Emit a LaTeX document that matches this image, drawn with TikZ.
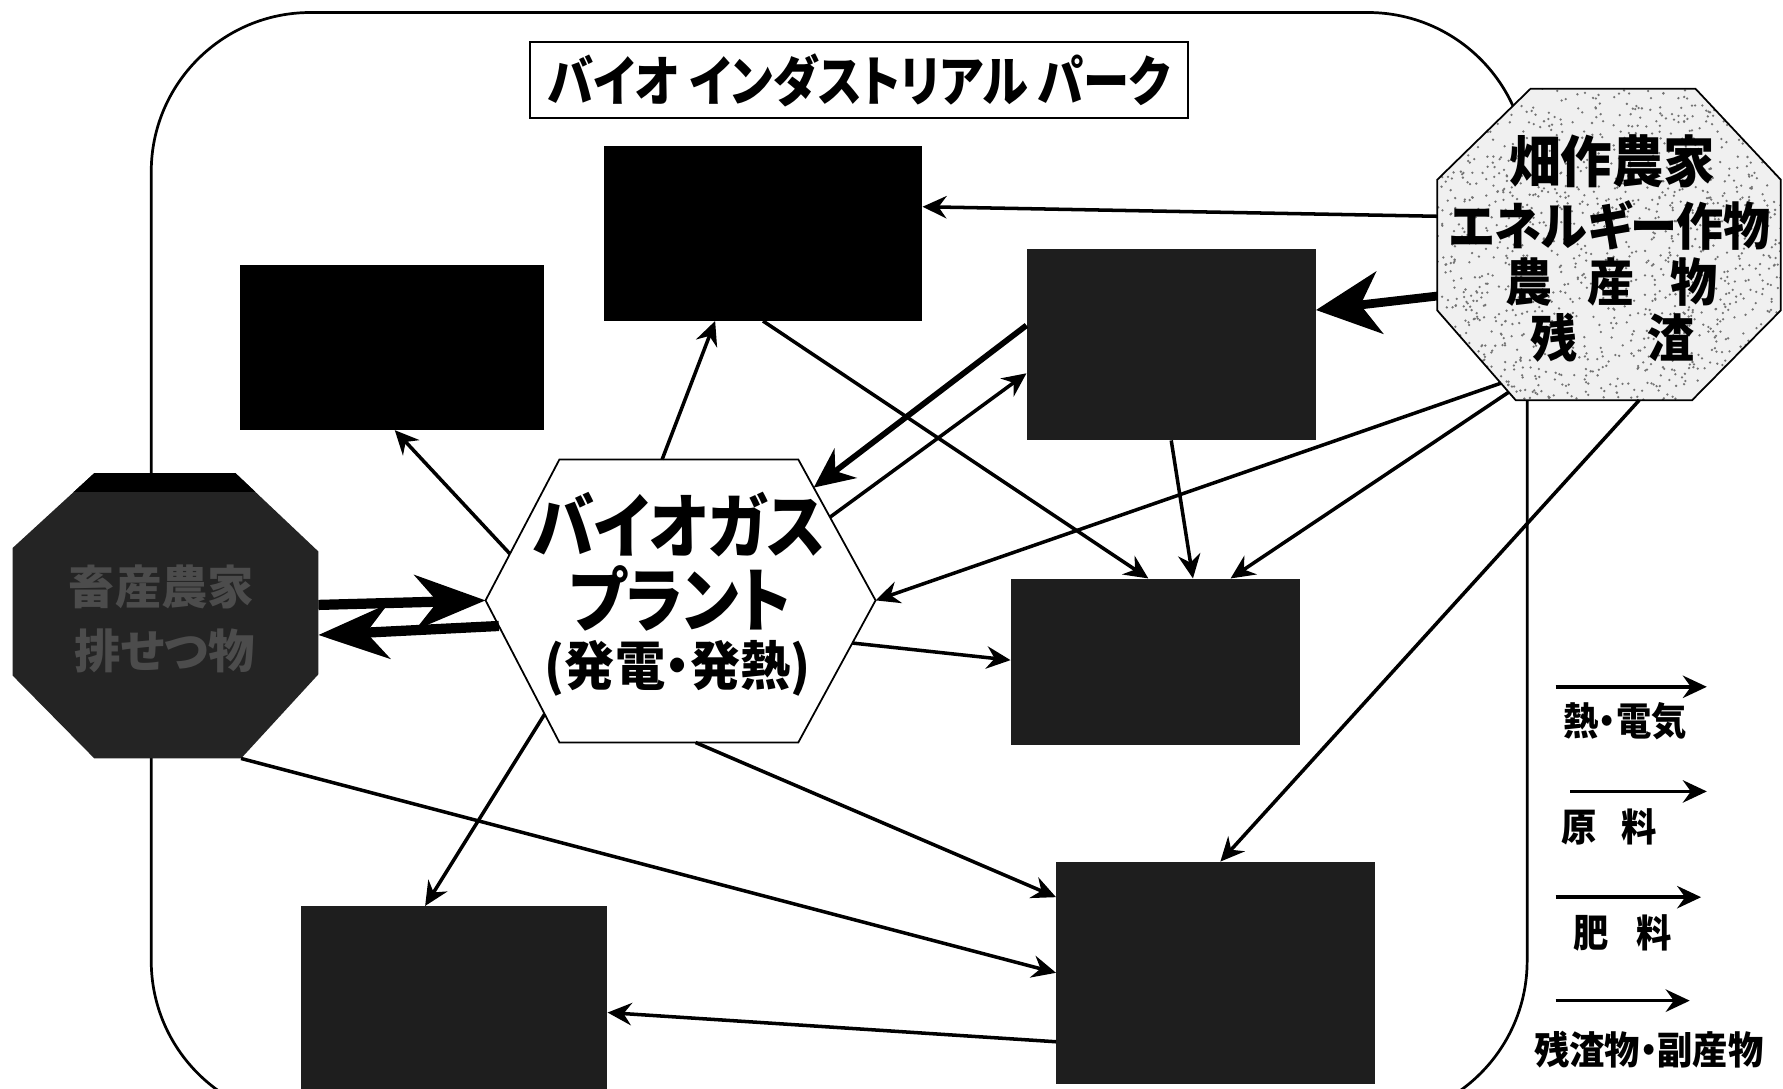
\documentclass[tikz,border=0pt]{standalone}
\usepackage{fontspec}
\newfontfamily\jp[RawFeature=+palt]{Noto Sans CJK JP}
\usetikzlibrary{arrows.meta,calc}
\newcommand\jpsize[1]{\jp\bfseries\fontsize{#1}{#1}\selectfont}
\newcommand\narrow[2]{\scalebox{#1}[1]{#2}}
\definecolor{darkbox}{HTML}{1E1E1E}
\definecolor{octfill}{HTML}{242424}
\begin{document}
\begin{tikzpicture}[x=0.025cm,y=-0.025cm,
  conn/.style={line width=2.2pt,-{Stealth[length=15pt,width=14pt,inset=5pt]}},
  thickconn/.style={line width=3.6pt,-{Stealth[length=25pt,width=23pt,inset=8pt]}},
  heavyconn/.style={line width=5.5pt,-{Stealth[length=40pt,width=39pt,inset=12pt]}},
  hugeconn/.style={line width=6.4pt,-{Stealth[length=44pt,width=34pt,inset=14pt]}},
  photobox/.style={inner sep=0pt,draw=none},
  lbl/.style={inner sep=0pt,text=black},
]
\useasboundingbox (0,0) rectangle (1568,957);
\clip (0,0) rectangle (1568,957);
\fill[white] (0,0) rectangle (1568,957);

% outer park boundary
\draw[line width=1.7pt,rounded corners=3.5cm] (133,11) rectangle (1343,985);

% title
\node[draw,line width=1.2pt,fill=white,minimum width=14.475cm,minimum height=1.675cm,inner sep=0pt] (title) at (755.5,70.5) {\narrow{0.85}{\jpsize{34pt}バイオ インダストリアル パーク}};

% photo boxes
\node[photobox,fill=black,minimum width=7cm,minimum height=3.85cm] (tb) at (671,205) {};
\node[photobox,fill=black,minimum width=6.675cm,minimum height=3.625cm] (tl) at (344.5,305.5) {};
\node[photobox,fill=darkbox,minimum width=6.35cm,minimum height=4.2cm] (ru) at (1030,303) {};
\node[photobox,fill=darkbox,minimum width=6.35cm,minimum height=3.65cm] (rm) at (1016,582) {};
\node[photobox,fill=darkbox,minimum width=7cm,minimum height=4.875cm] (lr) at (1069,855.5) {};
\node[photobox,fill=darkbox,minimum width=6.725cm,minimum height=4.325cm] (ll) at (399.5,883.5) {};

% hexagon vertices
\coordinate (hTL) at (492,404); \coordinate (hTR) at (702,404);
\coordinate (hR) at (770,528);  \coordinate (hBR) at (702,653);
\coordinate (hBL) at (492,653); \coordinate (hL) at (427,528);
% farmer octagon vertices
\coordinate (f1) at (1346,78);  \coordinate (f2) at (1491,78);
\coordinate (f3) at (1566,158); \coordinate (f4) at (1566,273);
\coordinate (f5) at (1488,352); \coordinate (f6) at (1333,352);
\coordinate (f7) at (1264,273); \coordinate (f8) at (1264,158);
% livestock octagon vertices
\coordinate (l1) at (83,416);  \coordinate (l2) at (207,416);
\coordinate (l3) at (280,485); \coordinate (l4) at (280,593);
\coordinate (l5) at (212,667); \coordinate (l6) at (83,667);
\coordinate (l7) at (11,594);  \coordinate (l8) at (11,482);

% biogas plant hexagon
\draw[line width=1.1pt,fill=white] (hTL) -- (hTR) -- (hR) -- (hBR) -- (hBL) -- (hL) -- cycle;
\node[lbl] (bg1) at (597,461) {\narrow{0.88}{\jpsize{44pt}バイオガス}};
\node[lbl] (bg2) at (598,526) {\narrow{0.88}{\jpsize{44pt}プラント}};
\node[lbl] (bg3) at (596,588) {\narrow{0.95}{\jpsize{33pt}(発電・発熱)}};

% livestock octagon
\fill[octfill] (l1)--(l2)--(l3)--(l4)--(l5)--(l6)--(l7)--(l8)--cycle;
\begin{scope}
\clip (l1)--(l2)--(l3)--(l4)--(l5)--(l6)--(l7)--(l8)--cycle;
\fill[black] (0,416) rectangle (300,433);
\end{scope}
\node[lbl,text=black!70] (lv1) at (142,516) {\jpsize{29pt}畜産農家};
\node[lbl,text=black!70] (lv2) at (145,572) {\jpsize{29pt}排せつ物};

% farmer octagon
\begin{scope}
\clip (f1)--(f2)--(f3)--(f4)--(f5)--(f6)--(f7)--(f8)--cycle;
\fill[black!6] (1260,70) rectangle (1570,360);
\pgfmathsetseed{42}
\foreach \i in {1,...,1400}{\fill[black!55] ({1264+302*rnd},{78+274*rnd}) circle[radius=0.8pt];}
\end{scope}
\draw[line width=1.1pt] (f1)--(f2)--(f3)--(f4)--(f5)--(f6)--(f7)--(f8)--cycle;
\node[lbl] (fa1) at (1418,142) {\narrow{0.92}{\jpsize{35pt}畑作農家}};
\node[lbl] (fa2) at (1416,198) {\narrow{0.92}{\jpsize{32pt}エネルギー作物}};
\node[lbl] (fa3) at (1417,248) {\narrow{0.92}{\jpsize{32pt}農\hspace{0.75em}産\hspace{0.75em}物}};
\node[lbl] (fa4) at (1418,297) {\narrow{0.92}{\jpsize{32pt}残\hspace{1.5em}渣}};

% connectors
\draw[conn] ($(f8)!0.28!(f7)$) -- ($(tb.north east)!0.35!(tb.south east)$);
\draw[heavyconn] ($(f8)!0.89!(f7)$) -- ($(ru.north east)!0.32!(ru.south east)$);
\draw[thickconn] ($(ru.north west)!0.40!(ru.south west)$) -- ($(hTR)!0.2!(hR)$);
\draw[conn] ($(hTR)!0.41!(hR)$) -- ($(ru.north west)!0.65!(ru.south west)$);
\draw[conn] ($(hTL)!0.43!(hTR)$) -- ($(tb.south west)!0.35!(tb.south east)$);
\draw[conn] ($(hL)!0.33!(hTL)$) -- ($(tl.south west)!0.51!(tl.south east)$);
\draw[hugeconn] ($(l3)!0.435!(l4)$) -- (hL);
\draw[hugeconn] ($(hL)!0.18!(hBL)$) -- ($(l3)!0.68!(l4)$);
\draw[conn] ($(hR)!0.3!(hBR)$) -- ($(rm.north west)!0.49!(rm.south west)$);
\draw[conn] ($(hBL)!0.57!(hBR)$) -- ($(lr.north west)!0.16!(lr.south west)$);
\draw[conn] (l5) -- (lr.west);
\draw[conn] ($(lr.north west)!0.81!(lr.south west)$) -- ($(ll.north east)!0.54!(ll.south east)$);
\draw[conn] ($(hL)!0.8!(hBL)$) -- ($(ll.north west)!0.405!(ll.north east)$);
\draw[conn] (tb.south) -- ($(rm.north west)!0.476!(rm.north east)$);
\draw[conn] (ru.south) -- ($(rm.north west)!0.63!(rm.north east)$);
\draw[conn] ($(f7)!0.91!(f6)$) -- ($(rm.north west)!0.76!(rm.north east)$);
\draw[conn] ($(f7)!0.81!(f6)$) -- (hR);
\draw[conn] ($(f5)!0.3!(f6)$) -- ($(lr.north west)!0.515!(lr.north east)$);

% legend
\coordinate (la1) at (1368,604); \coordinate (lb1) at (1501,604);
\coordinate (la2) at (1381,696); \coordinate (lb2) at (1501,696);
\coordinate (la3) at (1368,789); \coordinate (lb3) at (1496,789);
\coordinate (la4) at (1368,880); \coordinate (lb4) at (1486,880);
\draw[conn] (la1) -- (lb1);
\draw[conn] (la2) -- (lb2);
\draw[conn] (la3) -- (lb3);
\draw[conn] (la4) -- (lb4);
\node[lbl] (lg1) at (1429,634) {\narrow{0.92}{\jpsize{24pt}熱・電気}};
\node[lbl] (lg2) at (1415,727) {\narrow{0.92}{\jpsize{24pt}原\hspace{0.7em}料}};
\node[lbl] (lg3) at (1427,820) {\narrow{0.92}{\jpsize{24pt}肥\hspace{0.8em}料}};
\node[lbl] (lg4) at (1450,923) {\narrow{0.92}{\jpsize{24pt}残渣物・副産物}};
\end{tikzpicture}
\end{document}
